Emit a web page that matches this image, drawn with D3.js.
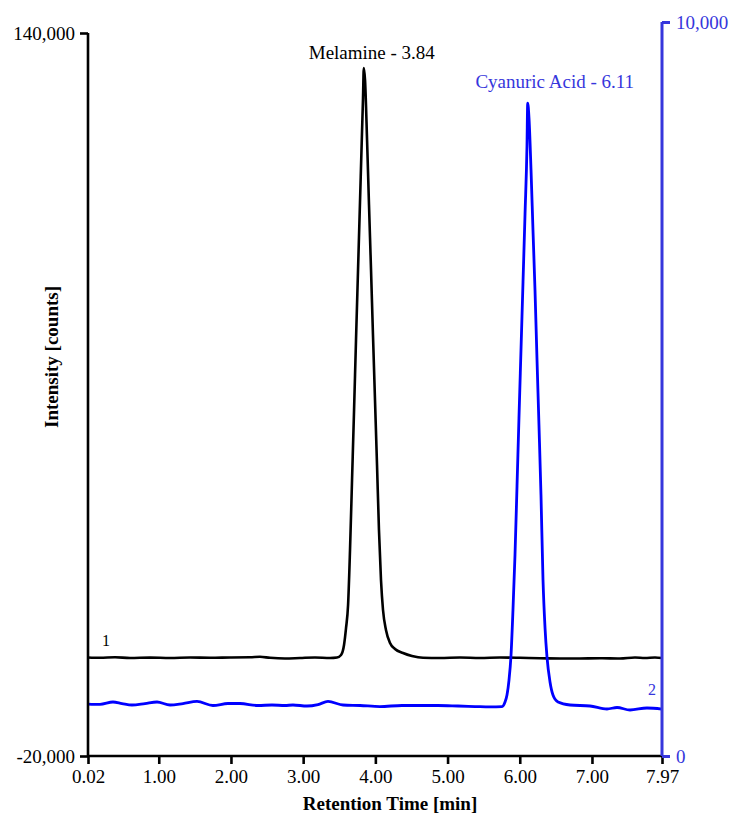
<!DOCTYPE html>
<html>
<head>
<meta charset="utf-8">
<script src="https://cdn.jsdelivr.net/npm/d3@7"></script>
<style>
  html, body { margin: 0; padding: 0; background: #fff; }
  svg { display: block; }
  text { font-family: "Liberation Serif", "Times New Roman", serif; }
</style>
</head>
<body>
<svg id="chart" width="732" height="815"></svg>
<script>
// Retention time (min) and intensity (counts) for trace 1 — Melamine
const melamineTime = [0.020, 0.186, 0.394, 0.602, 0.879, 1.156, 1.433, 1.710, 1.987, 2.264, 2.402, 2.541, 2.748, 2.956, 3.164, 3.372, 3.469,
  3.525, 3.566, 3.594, 3.622, 3.649, 3.677, 3.705, 3.732, 3.760, 3.788, 3.816, 3.829, 3.84,
  3.857, 3.885, 3.912, 3.940, 3.967, 3.995, 4.023, 4.050, 4.078, 4.106, 4.147, 4.203, 4.272, 4.383, 4.507, 4.660,
  4.895, 5.172, 5.449, 5.726, 6.003, 6.280, 6.557, 6.834, 7.111, 7.388, 7.596, 7.734, 7.873, 7.970];
const melamineIntensity = [1800, 1730, 1840, 1690, 1775, 1690, 1800, 1730, 1800, 1840, 1950, 1730, 1580, 1690, 1800, 1690, 1800,
  2350, 4560, 8330, 13420, 25590, 41080, 56570, 72060, 87550, 103040, 118530, 125620, 132250,
  129600, 116320, 101940, 87550, 73170, 58780, 44400, 30010, 18950, 12310, 7880, 5010, 3680, 2790, 2130, 1730,
  1690, 1800, 1690, 1800, 1730, 1620, 1580, 1580, 1620, 1580, 1800, 1690, 1800, 1690];

// Retention time (min) and intensity (counts) for trace 2 — Cyanuric Acid
const cyanuricTime = [0.020, 0.186, 0.366, 0.491, 0.629, 0.809, 0.976, 1.156, 1.336, 1.530, 1.751, 1.959, 2.125, 2.375, 2.568, 2.748,
  2.859, 3.053, 3.206, 3.344, 3.552, 3.788, 4.064, 4.369, 4.591, 4.868, 5.145, 5.380, 5.588, 5.754,
  5.796, 5.823, 5.851, 5.879, 5.906, 5.934, 5.962, 5.989, 6.017, 6.045, 6.073, 6.100, 6.11,
  6.128, 6.156, 6.183, 6.211, 6.239, 6.266, 6.294, 6.322, 6.350, 6.377, 6.419, 6.460, 6.530,
  6.696, 6.973, 7.208, 7.347, 7.527, 7.762, 7.970];
const cyanuricIntensity = [708, 704, 736, 715, 695, 715, 736, 695, 715, 743, 688, 715, 715, 688, 695, 688,
  695, 681, 701, 743, 695, 688, 674, 688, 688, 688, 681, 674, 668, 674,
  736, 831, 1035, 1376, 1989, 2738, 3678, 4605, 5531, 6458, 7384, 8311, 8896,
  8692, 7984, 7166, 6349, 5395, 4510, 3556, 2398, 1744, 1349, 1008, 831, 736,
  695, 681, 640, 661, 627, 654, 640];

// Axis ticks
const xTicks = [0.02, 1.00, 2.00, 3.00, 4.00, 5.00, 6.00, 7.00, 7.97];
const leftTicks = [-20000, 140000];
const rightTicks = [0, 10000];

// Peak annotations
const peakNames = ["Melamine", "Cyanuric Acid"];
const peakTimes = [3.84, 6.11];

const BLUE = "#0000ff";
const BLUE_AXIS = "#3636dc";

const svg = d3.select("#chart");

const x = d3.scaleLinear().domain([0.02, 7.97]).range([88, 662]);
const yLeft = d3.scaleLinear().domain([-20000, 140000]).range([756, 33]);
const yRight = d3.scaleLinear().domain([0, 10000]).range([756, 22]);

// Thousands separator with a plain hyphen for negatives
const fmtInt = d => d3.format(",")(d).replace("\u2212", "-");

// Traces
const melamine = melamineTime.map((t, i) => [t, melamineIntensity[i]]);
const cyanuric = cyanuricTime.map((t, i) => [t, cyanuricIntensity[i]]);

svg.append("path")
  .datum(melamine)
  .attr("fill", "none")
  .attr("stroke", "#000")
  .attr("stroke-width", 2.6)
  .attr("stroke-linejoin", "round")
  .attr("d", d3.line().x(d => x(d[0])).y(d => yLeft(d[1])).curve(d3.curveMonotoneX));

svg.append("path")
  .datum(cyanuric)
  .attr("fill", "none")
  .attr("stroke", BLUE)
  .attr("stroke-width", 2.8)
  .attr("stroke-linejoin", "round")
  .attr("d", d3.line().x(d => x(d[0])).y(d => yRight(d[1])).curve(d3.curveMonotoneX));

// Bottom axis
const xAxis = svg.append("g")
  .attr("transform", `translate(0,${yLeft.range()[0]})`)
  .call(d3.axisBottom(x).tickValues(xTicks).tickFormat(d3.format(".2f")).tickSize(8).tickPadding(6));
xAxis.select(".domain").attr("stroke", "#000").attr("stroke-width", 2.6).attr("d", "M88,0H662");
xAxis.selectAll(".tick line").attr("stroke", "#000").attr("stroke-width", 2.6);
xAxis.selectAll(".tick text").attr("fill", "#000").style("font-size", "19px").style("font-family", "Liberation Serif, serif");

// Left axis
const yAxisL = svg.append("g")
  .attr("transform", "translate(88,0)")
  .call(d3.axisLeft(yLeft).tickValues(leftTicks).tickFormat(fmtInt).tickSize(8).tickPadding(5));
yAxisL.select(".domain").attr("stroke", "#000").attr("stroke-width", 2.6).attr("d", "M0,33V756");
yAxisL.selectAll(".tick line").attr("stroke", "#000").attr("stroke-width", 2.6);
yAxisL.selectAll(".tick text").attr("fill", "#000").style("font-size", "19px").style("font-family", "Liberation Serif, serif");

// Right axis
const yAxisR = svg.append("g")
  .attr("transform", "translate(662,0)")
  .call(d3.axisRight(yRight).tickValues(rightTicks).tickFormat(fmtInt).tickSize(8).tickPadding(6));
yAxisR.select(".domain").attr("stroke", BLUE_AXIS).attr("stroke-width", 3).attr("d", "M0,22V756");
yAxisR.selectAll(".tick line").attr("stroke", BLUE_AXIS).attr("stroke-width", 3);
yAxisR.selectAll(".tick text").attr("fill", BLUE_AXIS).style("font-size", "19px").style("font-family", "Liberation Serif, serif");

// Axis titles
svg.append("text")
  .attr("x", 390).attr("y", 810)
  .attr("text-anchor", "middle")
  .style("font-size", "19px").style("font-weight", "bold")
  .text("Retention Time [min]");

svg.append("text")
  .attr("transform", "translate(58,357) rotate(-90)")
  .attr("text-anchor", "middle")
  .style("font-size", "19px").style("font-weight", "bold")
  .text("Intensity [counts]");

// Peak labels
svg.append("text")
  .attr("x", x(peakTimes[0]) + 8).attr("y", 59)
  .attr("text-anchor", "middle")
  .style("font-size", "19px").attr("fill", "#000")
  .text(`${peakNames[0]} - ${peakTimes[0].toFixed(2)}`);

svg.append("text")
  .attr("x", x(peakTimes[1]) + 27).attr("y", 88)
  .attr("text-anchor", "middle")
  .style("font-size", "19px").attr("fill", BLUE_AXIS)
  .text(`${peakNames[1]} - ${peakTimes[1].toFixed(2)}`);

// Trace numbers
svg.append("text")
  .attr("x", 106).attr("y", 646)
  .attr("text-anchor", "middle")
  .style("font-size", "16px").attr("fill", "#000")
  .text("1");

svg.append("text")
  .attr("x", 652).attr("y", 695)
  .attr("text-anchor", "middle")
  .style("font-size", "16px").attr("fill", BLUE_AXIS)
  .text("2");
</script>
</body>
</html>
